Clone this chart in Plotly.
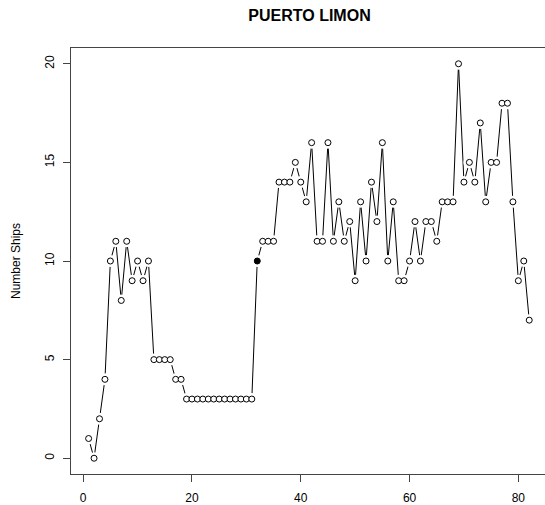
import plotly.graph_objects as go

# Data
weeks = list(range(1, 83))
ships = [1, 0, 2, 4, 10, 11, 8, 11, 9, 10, 9, 10,
         5, 5, 5, 5, 4, 4,
         3, 3, 3, 3, 3, 3, 3, 3, 3, 3, 3, 3, 3,
         10, 11, 11, 11, 14, 14, 14, 15, 14, 13, 16, 11, 11, 16, 11, 13, 11, 12, 9,
         13, 10, 14, 12, 16, 10, 13, 9, 9, 10, 12, 10, 12, 12, 11, 13, 13, 13,
         20, 14, 15, 14, 17, 13, 15, 15, 18, 18, 13, 9, 10, 7]
highlight_week = 32
x_ticks = [0, 20, 40, 60, 80]
y_ticks = [0, 5, 10, 15, 20]
title_text = "PUERTO LIMON"
y_label = "Number Ships"

fill_colors = ["black" if w == highlight_week else "white" for w in weeks]

FONT = "Liberation Sans, Arial, Helvetica, sans-serif"
AXIS_COLOR = "#444"

fig = go.Figure()
fig.add_trace(go.Scatter(x=weeks, y=ships, mode="lines",
                         line=dict(color="black", width=1), hoverinfo="skip"))
fig.add_trace(go.Scatter(x=weeks, y=ships, mode="markers",
                         marker=dict(color="white", size=12, line=dict(width=0)),
                         hoverinfo="skip"))
fig.add_trace(go.Scatter(x=weeks, y=ships, mode="markers",
                         marker=dict(symbol="circle", size=6, color=fill_colors,
                                     line=dict(color="black", width=1))))

fig.update_layout(
    width=545, height=505,
    margin=dict(l=71, r=0, t=48, b=31, autoexpand=False),
    plot_bgcolor="white", paper_bgcolor="white",
    showlegend=False,
    font=dict(family=FONT, size=12, color="black"),
    title=dict(text="<b>" + title_text + "</b>", x=(71 + 548) / 2 / 545, xanchor="center",
               y=1 - 15 / 505, yanchor="middle", font=dict(size=16, family=FONT, color="black")),
    xaxis=dict(range=[-2.24, 84.9], tickvals=x_ticks, ticks="outside", ticklen=7,
               tickcolor=AXIS_COLOR, showline=True, mirror=True, linecolor=AXIS_COLOR,
               linewidth=1, showgrid=False, zeroline=False, ticklabelstandoff=6,
               automargin=False,
               tickfont=dict(size=12, family=FONT, color="black")),
    yaxis=dict(range=[-0.8, 20.8], tickvals=y_ticks, ticks="outside", ticklen=7,
               tickcolor=AXIS_COLOR, showline=True, mirror=False, linecolor=AXIS_COLOR,
               linewidth=1, showgrid=False, zeroline=False, tickangle=-90,
               ticklabelstandoff=4, automargin=False,
               tickfont=dict(size=12, family=FONT, color="black")),
    annotations=[dict(text=y_label, xref="paper", yref="paper", x=0, y=0.5,
                      xanchor="center", yanchor="middle", xshift=-55, textangle=-90,
                      showarrow=False, font=dict(size=12, family=FONT, color="black"))],
    shapes=[dict(type="rect", xref="paper", yref="paper", x0=0.994, x1=1.02,
                 y0=0.004, y1=0.996, fillcolor="white", line=dict(width=0), layer="above")],
)

fig.write_html("out.html")
